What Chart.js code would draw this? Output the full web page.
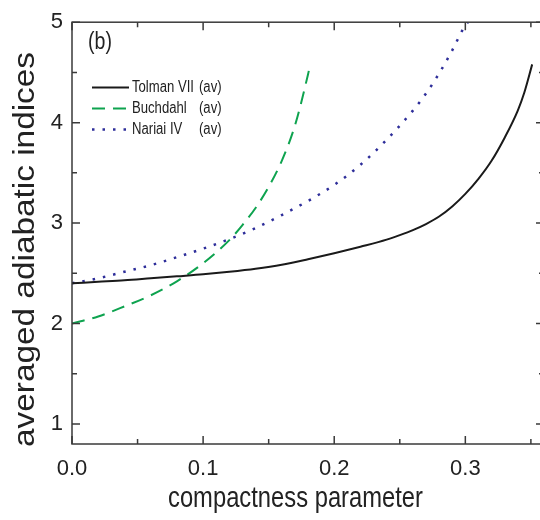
<!DOCTYPE html>
<html>
<head>
<meta charset="utf-8">
<script src="https://cdn.jsdelivr.net/npm/chart.js@4.4.1/dist/chart.umd.min.js"></script>
<style>
  html, body { margin: 0; padding: 0; background: #fff; overflow: hidden; }
  #wrap { position: absolute; left: 0; top: 0; width: 546px; height: 520px; }
</style>
</head>
<body>
<div id="wrap"><canvas id="c" width="546" height="520"></canvas></div>
<script>
// ---- data ----
const tolmanX = [0, 0.02, 0.04, 0.06, 0.08, 0.10, 0.12, 0.14, 0.16, 0.18, 0.20, 0.22, 0.24, 0.25, 0.26, 0.27, 0.28, 0.29, 0.30, 0.31, 0.32, 0.33, 0.34, 0.345, 0.351];
const tolmanY = [2.40, 2.415, 2.43, 2.45, 2.47, 2.49, 2.515, 2.545, 2.585, 2.64, 2.70, 2.765, 2.835, 2.88, 2.93, 2.99, 3.065, 3.165, 3.29, 3.44, 3.62, 3.85, 4.12, 4.30, 4.58];

const buchX = [0, 0.02, 0.04, 0.06, 0.08, 0.10, 0.12, 0.13, 0.14, 0.15, 0.16, 0.17, 0.18, 0.1815];
const buchY = [2.00, 2.07, 2.17, 2.28, 2.42, 2.60, 2.83, 2.98, 3.15, 3.36, 3.62, 3.97, 4.48, 4.57];

const nariaiX = [0, 0.02, 0.04, 0.06, 0.08, 0.10, 0.12, 0.14, 0.16, 0.18, 0.20, 0.22, 0.24, 0.26, 0.27, 0.28, 0.29, 0.30, 0.302];
const nariaiY = [2.40, 2.45, 2.515, 2.58, 2.66, 2.745, 2.84, 2.95, 3.08, 3.22, 3.38, 3.58, 3.83, 4.12, 4.29, 4.49, 4.72, 4.97, 5.0];

const seriesNames = ['Tolman VII', 'Buchdahl', 'Nariai IV'];
const seriesTag = '(av)';
const xTitle = 'compactness parameter';
const yTitle = 'averaged adiabatic indices';
const panelTag = '(b)';

const xMajor = [0, 0.1, 0.2, 0.3];
const xMinor = [0.05, 0.15, 0.25, 0.35];
const yMajor = [1, 2, 3, 4, 5];
const yMinor = [1.5, 2.5, 3.5, 4.5];

const axisColor = '#3a3a3a';
const textColor = '#222';
const sans = '"Liberation Sans", Arial, sans-serif';

const pts = (xs, ys) => xs.map((x, i) => ({ x, y: ys[i] }));

// text squeezed/stretched along its own direction (the original uses a condensed face)
function drawScaledText(ctx, text, x, y, font, sx, align, rotate) {
  ctx.save();
  ctx.font = font;
  ctx.translate(x, y);
  if (rotate) ctx.rotate(-Math.PI / 2);
  ctx.scale(sx, 1);
  ctx.textAlign = align;
  ctx.fillText(text, 0, 0);
  ctx.restore();
}

// frame + inward ticks on all four sides
const frameTicks = {
  id: 'frameTicks',
  afterDatasetsDraw(chart) {
    const { ctx, chartArea: a, scales: { x, y } } = chart;
    ctx.save();
    ctx.strokeStyle = axisColor;
    ctx.lineWidth = 1.5;
    ctx.strokeRect(a.left, a.top, a.right - a.left, a.bottom - a.top);
    ctx.beginPath();
    const xt = (v, len) => {
      const px = x.getPixelForValue(v);
      ctx.moveTo(px, a.bottom); ctx.lineTo(px, a.bottom - len);
      ctx.moveTo(px, a.top);    ctx.lineTo(px, a.top + len);
    };
    const yt = (v, len) => {
      const py = y.getPixelForValue(v);
      ctx.moveTo(a.left, py);  ctx.lineTo(a.left + len, py);
      ctx.moveTo(a.right, py); ctx.lineTo(a.right - len, py);
    };
    xMajor.forEach(v => xt(v, 8));
    xMinor.forEach(v => xt(v, 5));
    yMajor.forEach(v => yt(v, 8));
    yMinor.forEach(v => yt(v, 5));
    ctx.stroke();
    ctx.restore();
  }
};

// axis titles, legend box with aligned "(av)", panel label
const labels = {
  id: 'labels',
  afterDraw(chart) {
    const { ctx } = chart;
    ctx.save();
    ctx.fillStyle = textColor;
    ctx.textBaseline = 'alphabetic';

    // x title: ~255px wide, baseline ~507
    ctx.font = '29px ' + sans;
    let w = ctx.measureText(xTitle).width;
    drawScaledText(ctx, xTitle, 295.5, 507, ctx.font, 255 / w, 'center', false);

    // y title: ~395px long, baseline at x ~33
    ctx.font = '29px ' + sans;
    w = ctx.measureText(yTitle).width;
    drawScaledText(ctx, yTitle, 33.5, 249.5, ctx.font, 395 / w, 'center', true);

    ctx.textBaseline = 'middle';
    drawScaledText(ctx, panelTag, 88, 43, '23px ' + sans, 0.85, 'left', false);

    const rowsY = [87.5, 108.5, 129.5];
    chart.data.datasets.forEach((ds, i) => {
      const yy = rowsY[i];
      ctx.save();
      ctx.strokeStyle = ds.borderColor;
      ctx.lineWidth = ds.borderWidth;
      ctx.setLineDash(ds.borderDash || []);
      ctx.beginPath();
      ctx.moveTo(92, yy);
      ctx.lineTo(129, yy);
      ctx.stroke();
      ctx.restore();
      drawScaledText(ctx, seriesNames[i], 132, yy, '16px ' + sans, 0.82, 'left', false);
      drawScaledText(ctx, seriesTag, 199, yy, '16px ' + sans, 0.82, 'left', false);
    });
    ctx.restore();
  }
};

new Chart(document.getElementById('c'), {
  type: 'line',
  data: {
    datasets: [
      {
        label: seriesNames[0] + ' ' + seriesTag,
        data: pts(tolmanX, tolmanY),
        borderColor: '#1a1a1a',
        borderWidth: 2,
        pointRadius: 0,
        cubicInterpolationMode: 'monotone'
      },
      {
        label: seriesNames[1] + ' ' + seriesTag,
        data: pts(buchX, buchY),
        borderColor: '#0ea34f',
        borderWidth: 2,
        borderDash: [13, 8],
        pointRadius: 0,
        cubicInterpolationMode: 'monotone'
      },
      {
        label: seriesNames[2] + ' ' + seriesTag,
        data: pts(nariaiX, nariaiY),
        borderColor: '#2e2e9a',
        borderWidth: 2.5,
        borderDash: [2.5, 8],
        pointRadius: 0,
        cubicInterpolationMode: 'monotone'
      }
    ]
  },
  options: {
    responsive: false,
    devicePixelRatio: 1,
    animation: false,
    layout: { padding: { top: 13, right: 2, left: 0, bottom: 0 } },
    plugins: { legend: { display: false }, tooltip: { enabled: false } },
    scales: {
      x: {
        type: 'linear',
        min: 0,
        max: 0.36,
        afterBuildTicks: s => { s.ticks = xMajor.map(v => ({ value: v })); },
        afterFit: s => { s.height = 76; },
        grid: { display: false, drawTicks: false },
        border: { display: false },
        ticks: {
          color: textColor,
          font: { family: sans, size: 22 },
          padding: 12,
          maxRotation: 0,
          callback: v => v.toFixed(1)
        },
        title: { display: false }
      },
      y: {
        type: 'linear',
        min: 0.8,
        max: 5,
        afterBuildTicks: s => { s.ticks = yMajor.map(v => ({ value: v })); },
        afterFit: s => { s.width = 72; },
        grid: { display: false, drawTicks: false },
        border: { display: false },
        ticks: {
          color: textColor,
          font: { family: sans, size: 22 },
          padding: 9,
          callback: v => String(v)
        },
        title: { display: false }
      }
    }
  },
  plugins: [frameTicks, labels]
});
</script>
</body>
</html>
